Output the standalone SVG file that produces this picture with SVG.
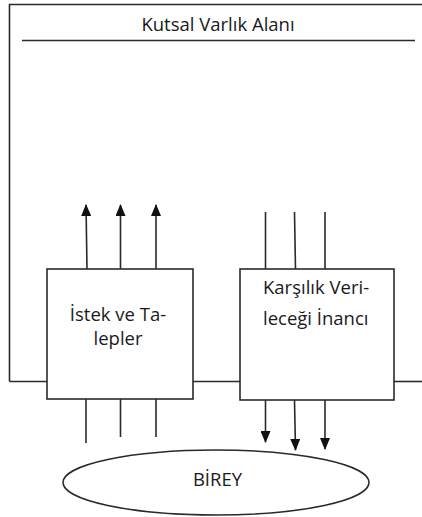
<svg xmlns="http://www.w3.org/2000/svg" width="422" height="517" viewBox="0 0 422 517">
<style>
.ln{fill:none;stroke:#2a2a2a;stroke-width:1.6}
.bx{fill:#fff;stroke:#2a2a2a;stroke-width:1.6}
.t{font-family:"Open Sans","Noto Sans",sans-serif;font-size:18.5px;fill:#1a1a1a}
</style>
<defs>
<marker id="ah" markerWidth="12" markerHeight="10" refX="11" refY="5" orient="auto" markerUnits="userSpaceOnUse" viewBox="0 0 12 10">
<path d="M0,0 L12,5 L0,10 Z" fill="#111"/>
</marker>
</defs>
<rect width="422" height="517" fill="#fff"/>
<g id="frame">
<path class="ln" d="M9.5,381.5 V4.5 H422"/>
<path class="ln" d="M22,40.5 H415"/>
<text class="t" x="218" y="31" text-anchor="middle">Kutsal Varlık Alanı</text>
</g>
<g id="connectors">
<path class="ln" d="M9.5,381.5 H47"/>
<path class="ln" d="M193,381.5 H240"/>
<path class="ln" d="M394,381.5 H422"/>
<path class="ln" d="M87,269 L86,205" marker-end="url(#ah)"/>
<path class="ln" d="M120.5,269 V205" marker-end="url(#ah)"/>
<path class="ln" d="M156,269 V205" marker-end="url(#ah)"/>
<path class="ln" d="M86,399 V443"/>
<path class="ln" d="M120.5,399 V437"/>
<path class="ln" d="M156,399 V437"/>
<path class="ln" d="M265.5,212 V269"/>
<path class="ln" d="M294.5,212 L295.5,269"/>
<path class="ln" d="M325,212 V269"/>
<path class="ln" d="M265.5,400 V442" marker-end="url(#ah)"/>
<path class="ln" d="M294.5,400 L295.5,450" marker-end="url(#ah)"/>
<path class="ln" d="M325,400 V449" marker-end="url(#ah)"/>
</g>
<g id="istek">
<rect class="bx" x="47" y="269" width="146" height="130"/>
<text class="t" x="118" y="321" text-anchor="middle">İstek ve Ta-</text>
<text class="t" x="118" y="345" text-anchor="middle">lepler</text>
</g>
<g id="karsilik">
<rect class="bx" x="240" y="269" width="154" height="131"/>
<text class="t" x="263" y="294">Karşılık Veri-</text>
<text class="t" x="263" y="325">leceği İnancı</text>
</g>
<g id="birey">
<ellipse class="bx" cx="216" cy="482.5" rx="153" ry="32.5"/>
<text class="t" x="217.5" y="486" text-anchor="middle">BİREY</text>
</g>
</svg>
